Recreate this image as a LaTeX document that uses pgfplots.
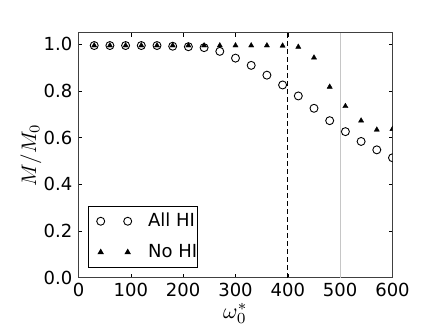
\documentclass[border=0pt]{standalone}
\usepackage{graphicx}
\usepackage{fontspec}
\setmainfont{DejaVu Sans}
\usepackage{pgfplots}
\pgfplotsset{compat=1.18}

\pgfplotstableread{
w     all    no
30    0.995  0.995
60    0.995  0.995
90    0.995  0.995
120   0.995  0.995
150   0.995  0.995
180   0.992  0.995
210   0.990  0.995
240   0.986  0.995
270   0.970  0.995
300   0.941  0.995
330   0.910  0.995
360   0.868  0.995
390   0.826  0.994
420   0.779  0.989
450   0.726  0.943
480   0.673  0.818
510   0.626  0.735
540   0.584  0.673
570   0.548  0.634
600   0.514  0.637
}\mdata

\newcommand{\tickfont}{\fontsize{18}{21}\selectfont}
\newcommand{\labmath}[2]{\scalebox{#1}{\fontsize{10}{12}\selectfont$#2$}}

\begin{document}
\tickfont
\begin{tikzpicture}
\useasboundingbox (-78.5pt,-49.3pt) rectangle (357.5pt,277.7pt);
\begin{axis}[
  at={(0,0)}, anchor=south west, scale only axis,
  width=314pt, height=245pt,
  xmin=0, xmax=600, ymin=0, ymax=1.05,
  xtick={0,100,200,300,400,500,600},
  ytick={0,0.2,0.4,0.6,0.8,1.0},
  yticklabel style={/pgf/number format/.cd, fixed, fixed zerofill, precision=1},
  /pgf/number format/assume math mode=true,
  tick label style={font=\tickfont},
  xticklabel style={yshift=1pt},
  tick align=inside, tick pos=both, major tick length=4pt,
  tick style={black, line width=0.5pt},
  axis line style={black!75, line width=0.8pt},
  xlabel={\labmath{2.2}{\omega_0^*}}, ylabel={\labmath{2.1}{M/M_0}},
  xlabel style={at={(axis description cs:0.5,0)}, anchor=north, inner sep=0pt, yshift=-25pt},
  ylabel style={yshift=-10pt},
  clip marker paths=true,
  legend cell align=left,
  legend image code/.code={\path (-12.3pt,0pt) (47pt,0pt); \draw[#1] plot[only marks] coordinates {(0pt,0pt) (27pt,0pt)};},
  legend style={at={(0.029,0.041)}, anchor=south west, draw=black, line width=0.8pt,
    font=\tickfont, inner xsep=0pt, inner ysep=7pt, row sep=15pt,
    nodes={inner sep=0pt}},
]
\addplot[gray!45, line width=1pt, forget plot] coordinates {(500,0) (500,1.05)};
\addplot[black, dash pattern=on 5pt off 3pt, line width=0.8pt, forget plot] coordinates {(400,0) (400,1.05)};
\addplot[only marks, mark=o, mark size=4pt, black, mark options={line width=0.9pt}] table[x=w, y=all] {\mdata};
\addlegendentry{All HI\hspace{8pt}}
\addplot[only marks, mark=triangle*, mark size=3pt, black] table[x=w, y=no] {\mdata};
\addlegendentry{No HI\hspace{8pt}}
\end{axis}
\end{tikzpicture}
\end{document}
